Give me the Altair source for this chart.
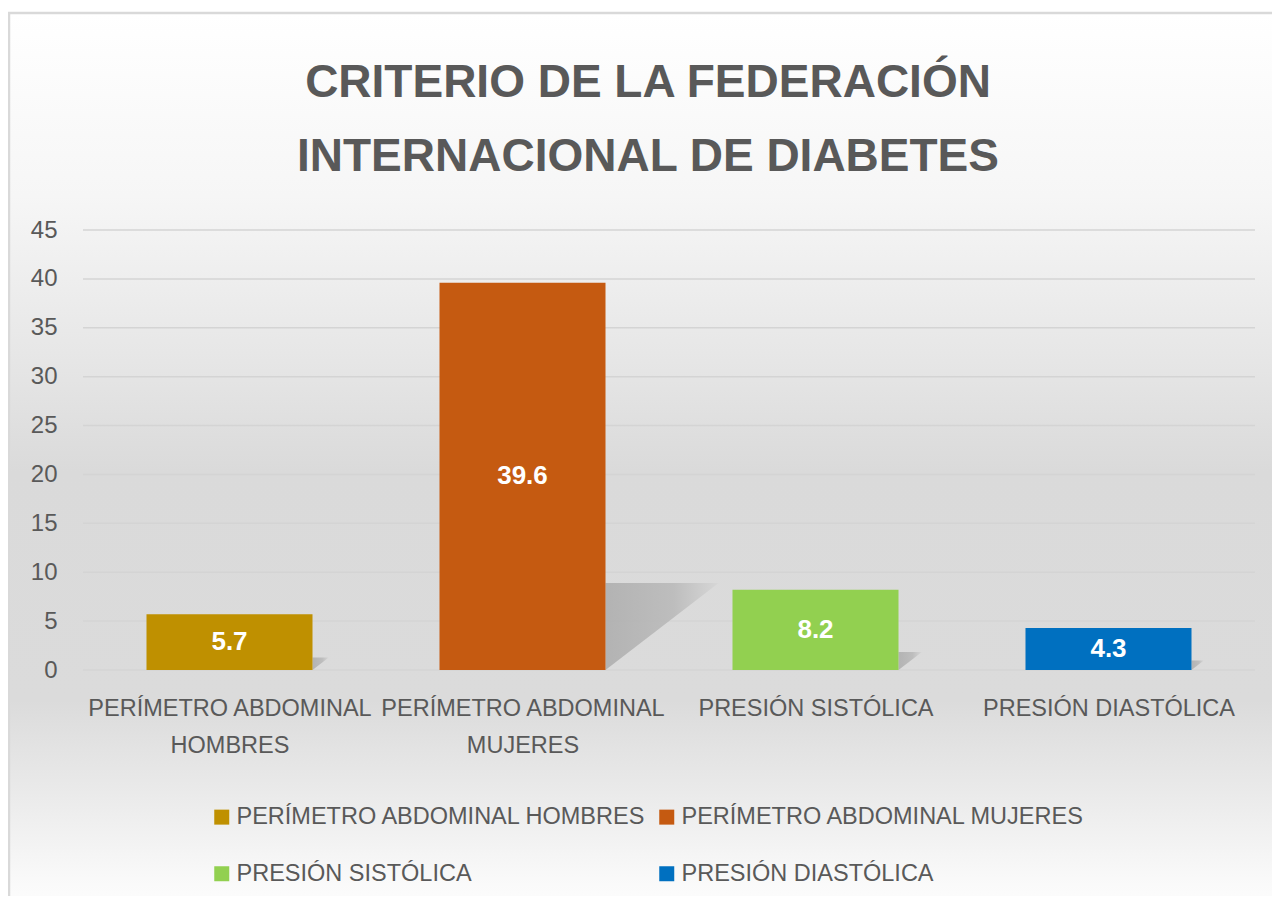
import json
import altair as alt
import pandas as pd

# ---------------- data ----------------
categories = [
    "PERÍMETRO ABDOMINAL HOMBRES",
    "PERÍMETRO ABDOMINAL MUJERES",
    "PRESIÓN SISTÓLICA",
    "PRESIÓN DIASTÓLICA",
]
axis_labels = [
    ["PERÍMETRO ABDOMINAL", "HOMBRES"],
    ["PERÍMETRO ABDOMINAL", "MUJERES"],
    ["PRESIÓN SISTÓLICA"],
    ["PRESIÓN DIASTÓLICA"],
]
values = [5.7, 39.6, 8.2, 4.3]
colors = ["#BF9000", "#C55A11", "#92D050", "#0070C0"]
y_ticks = [0, 5, 10, 15, 20, 25, 30, 35, 40, 45]
title_lines = ["CRITERIO DE LA FEDERACIÓN", "INTERNACIONAL DE DIABETES"]

# ---------------- layout ----------------
W, H = 1172, 440
HALF_BAR = 0.2833
FONT = "Liberation Sans"
TXT = "#595959"

df = pd.DataFrame({"cat": categories, "value": values, "idx": list(range(len(categories)))})
ticks_df = pd.DataFrame({"v": y_ticks})
one = pd.DataFrame({"a": [0]})

xscale = alt.Scale(domain=[0, len(categories)], nice=False, zero=False)
yscale = alt.Scale(domain=[0, 45], nice=False)

label_expr = json.dumps(axis_labels, ensure_ascii=False) + "[floor(datum.value)]"

xaxis = alt.Axis(
    values=[i + 0.5 for i in range(len(categories))],
    labelExpr=label_expr, grid=False, domain=False, ticks=False, title=None,
    labelFont=FONT, labelFontSize=23.5, labelColor=TXT, labelPadding=26,
    labelLineHeight=37, labelOverlap=False, labelBound=False, labelFlush=False,
    labelLimit=500, zindex=1,
)
yaxis = alt.Axis(
    values=y_ticks, grid=False, domain=False, ticks=False, title=None,
    labelFont=FONT, labelFontSize=24, labelColor=TXT, labelPadding=26, zindex=1,
)

# background with gradient + border
bg = alt.Chart(one).mark_rect(
    fill=alt.LinearGradient(
        gradient="linear", x1=0, x2=0, y1=0, y2=1,
        stops=[
            alt.GradientStop(offset=0.0, color="#ffffff"),
            alt.GradientStop(offset=0.2, color="#f6f6f6"),
            alt.GradientStop(offset=0.38, color="#e6e6e6"),
            alt.GradientStop(offset=0.5, color="#dadada"),
            alt.GradientStop(offset=0.75, color="#dbdbdb"),
            alt.GradientStop(offset=0.85, color="#eaeaea"),
            alt.GradientStop(offset=0.95, color="#fafafa"),
            alt.GradientStop(offset=1.0, color="#ffffff"),
        ],
    ),
    stroke="#d9d9d9", strokeWidth=2.5,
).encode(
    x=alt.value(-74), x2=alt.value(W + 80),
    y=alt.value(-217), y2=alt.value(H + 260),
)

# gridlines (y axis attached)
grid = alt.Chart(ticks_df).mark_rule(color="#d4d4d4", strokeWidth=1.5).encode(
    y=alt.Y("v:Q", scale=yscale, axis=yaxis),
    x=alt.value(0), x2=alt.value(W),
)

# perspective shadows
shadow = alt.Chart(df).transform_calculate(
    k="[0, 1]"
).transform_flatten(["k"]).transform_calculate(
    sx=f"datum.idx + 0.5 + {HALF_BAR} + datum.k * 0.00975 * datum.value",
    sy="0.225 * datum.value",
    sy2="datum.k * 0.225 * datum.value",
).mark_area(
    fill=alt.LinearGradient(
        gradient="linear", x1=0, x2=1, y1=0, y2=0,
        stops=[
            alt.GradientStop(offset=0.0, color="#acacac"),
            alt.GradientStop(offset=0.6, color="#b8b8b8"),
            alt.GradientStop(offset=1.0, color="#d6d6d6"),
        ],
    ),
    opacity=0.85,
).encode(
    x=alt.X("sx:Q", scale=xscale, axis=xaxis),
    y=alt.Y("sy:Q", scale=yscale, axis=yaxis),
    y2="sy2:Q",
    detail="cat:N",
)

# bars
bars = alt.Chart(df).transform_calculate(
    x0=f"datum.idx + 0.5 - {HALF_BAR}",
    x1=f"datum.idx + 0.5 + {HALF_BAR}",
).mark_rect().encode(
    x=alt.X("x0:Q", scale=xscale, axis=xaxis),
    x2="x1:Q",
    y=alt.Y("value:Q", scale=yscale, axis=yaxis),
    y2=alt.datum(0),
    color=alt.Color("cat:N", scale=alt.Scale(domain=categories, range=colors),
                    legend=alt.Legend(
                        orient="none", legendX=127, legendY=575, direction="horizontal",
                        columns=2, title=None, symbolType="square", symbolSize=225,
                        symbolStrokeWidth=0, labelFont=FONT, labelFontSize=23.5,
                        labelColor=TXT, labelOffset=3, columnPadding=8, rowPadding=32,
                        labelLimit=800, padding=0,
                    )),
)

# value labels
labels = alt.Chart(df).transform_calculate(
    xc="datum.idx + 0.5", mid="datum.value / 2"
).mark_text(color="white", font=FONT, fontWeight="bold", fontSize=26, baseline="middle").encode(
    x=alt.X("xc:Q", scale=xscale, axis=xaxis),
    y=alt.Y("mid:Q", scale=yscale, axis=yaxis),
    text=alt.Text("value:Q", format=".1f"),
)

# title as text
title = alt.Chart(one).mark_text(
    font=FONT, fontWeight="bold", fontSize=46,
    color=TXT, align="center", baseline="alphabetic", lineHeight=74,
).encode(
    x=alt.value(565), y=alt.value(-133), text=alt.value(title_lines),
)

chart = alt.layer(bg, grid, shadow, bars, labels, title).properties(
    width=W, height=H,
    autosize=alt.AutoSizeParams(type="none"),
    padding={"left": 75, "top": 222, "right": 17, "bottom": 226},
).configure_view(stroke=None).configure(background="white")

chart.save("out.html", embed_options={"renderer": "svg", "actions": False})
